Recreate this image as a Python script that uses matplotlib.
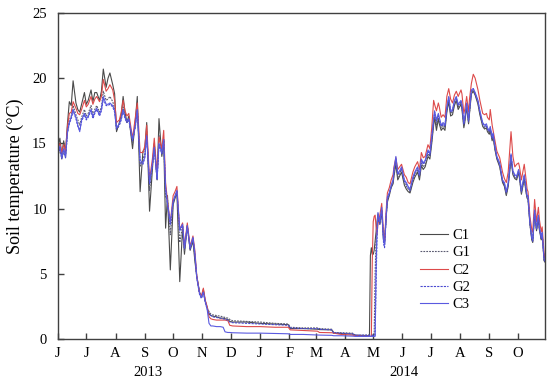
import numpy as np
import matplotlib
matplotlib.use("Agg")
import matplotlib.pyplot as plt
import matplotlib.transforms as mtransforms

plt.rcParams['font.family'] = ['Liberation Serif', 'DejaVu Serif']

start_date = np.datetime64('2013-06-01')
end_date = np.datetime64('2014-10-30')

# day offsets from 2013-06-01
days = [
    0, 2, 4, 6, 8, 10, 12, 14, 16, 19, 21, 23, 25, 28, 30, 32, 35, 37, 39, 41,
    44, 46, 48, 51, 53, 55, 58, 60, 62, 65, 67, 69, 71, 73, 75, 79, 82, 84,
    87, 90, 92, 94, 97, 100, 102, 105, 107, 110, 112, 114, 116, 119, 122, 124,
    126, 129, 132, 134, 137, 140, 143, 145, 147, 150, 152, 154, 156, 158,
    160, 162, 164, 168, 172, 175, 177, 180, 182, 185, 200, 214, 230, 244, 246,
    260, 275, 277, 290, 292, 300, 312, 315, 328,
    330, 331, 332, 333, 334, 335, 336, 337, 338, 339,
    341, 343, 345, 346, 348, 349, 351, 353, 355, 356,
    358, 360, 362, 364, 367, 369, 371, 373, 376, 378,
    381, 383, 385, 387, 389, 392, 394, 396, 398, 399,
    401, 403, 404, 406, 408, 410, 412, 414, 416, 418,
    420, 422, 424, 427, 428, 430, 431, 433, 435, 436,
    438, 440, 442, 445, 447, 450, 452, 454, 455, 457,
    458, 460, 461, 463, 465, 468, 471, 473, 475, 477,
    480, 482, 484, 486, 488, 489, 491, 494, 496, 497,
    498, 500, 502, 503, 505, 507, 509, 510, 512, 513,
    515, 516,
]

C1 = [
    14.8, 15.4, 14.1, 15.2, 14.3, 16.5, 18.2, 17.9, 19.8, 18.1, 17.6, 17.4, 18.0, 18.9, 18.0, 18.3, 19.1, 18.2, 18.9, 18.9,
    18.3, 19.0, 20.7, 19.3, 20.0, 20.4, 19.5, 18.8, 15.9, 16.6, 17.2, 18.6, 17.4, 16.6, 17.1, 14.6, 16.8, 18.6,
    11.3, 14.4, 14.6, 16.6, 9.8, 13.0, 15.0, 12.2, 16.9, 14.0, 15.2, 8.5, 11.0, 5.3, 10.3, 10.8,
    11.2, 4.4, 8.5, 6.5, 8.7, 6.8, 7.5, 6.0, 4.8, 3.6, 3.2, 3.8, 2.9, 2.4,
    1.9, 1.8, 1.75, 1.7, 1.6, 1.6, 1.55, 1.5, 1.35, 1.3, 1.3, 1.2, 1.15, 1.1, 0.8,
    0.8, 0.75, 0.72, 0.7, 0.45, 0.42, 0.38, 0.28, 0.25,
    0.3, 6.4, 7.0, 6.5, 6.5, 6.8, 7.5, 8.2, 9.0, 9.6,
    8.8, 9.8, 7.5, 7.4, 9.6, 10.5, 11.0, 11.6, 11.9, 12.5,
    13.4, 12.2, 12.5, 12.8, 11.8, 11.5, 11.3, 11.2, 12.0, 12.4,
    12.8, 12.2, 13.3, 13.0, 13.2, 14.0, 13.8, 15.0, 16.4, 17.0,
    16.0, 16.9, 16.5, 16.0, 16.2, 16.0, 17.4, 18.2, 17.1, 17.2,
    17.9, 18.3, 17.6, 18.0, 17.6, 16.2, 16.6, 17.8, 16.5, 17.3,
    18.8, 19.0, 18.7, 18.0, 17.2, 16.3, 16.1, 16.2, 15.9, 15.7,
    16.0, 15.2, 15.5, 14.5, 13.8, 13.2, 12.0, 11.7, 11.0, 11.7,
    13.8, 12.6, 12.3, 12.2, 12.8, 12.3, 11.1, 12.3, 11.2, 10.8,
    10.7, 8.8, 7.6, 7.4, 9.6, 8.3, 9.2, 8.4, 7.6, 8.0,
    6.0, 5.9,
]

G1 = [
    14.0, 14.6, 13.8, 14.4, 13.9, 15.8, 16.8, 17.1, 17.9, 17.2, 16.8, 16.4, 17.0, 17.6, 17.1, 17.3, 17.9, 17.2, 17.6, 17.9,
    17.4, 17.8, 19.0, 18.3, 18.4, 18.6, 18.2, 17.7, 16.0, 16.4, 17.0, 17.8, 17.1, 16.6, 16.9, 15.0, 16.5, 17.8,
    13.2, 13.8, 14.2, 15.9, 11.4, 13.3, 14.9, 12.3, 15.6, 14.2, 15.3, 10.8, 10.8, 8.0, 10.5, 10.9,
    11.4, 7.4, 8.7, 6.8, 8.7, 6.9, 7.7, 6.3, 4.8, 3.5, 3.2, 3.7, 2.9, 2.4,
    2.1, 1.9, 1.85, 1.8, 1.75, 1.7, 1.65, 1.6, 1.5, 1.4, 1.35, 1.3, 1.2, 1.15, 0.9,
    0.85, 0.85, 0.8, 0.75, 0.5, 0.48, 0.45, 0.3, 0.3,
    0.3, 0.3, 0.3, 0.3, 0.3, 0.3, 5.0, 7.6, 8.6, 9.5,
    8.9, 9.9, 7.5, 7.3, 9.7, 10.7, 11.1, 11.7, 12.0, 12.7,
    13.6, 12.4, 12.7, 13.0, 12.0, 11.7, 11.5, 11.3, 12.2, 12.6,
    13.0, 12.4, 13.5, 13.2, 13.4, 14.2, 14.0, 15.2, 16.6, 17.2,
    16.4, 17.1, 16.7, 16.2, 16.4, 16.2, 17.6, 18.4, 17.3, 17.4,
    18.1, 18.4, 17.8, 18.1, 17.8, 16.4, 16.8, 17.9, 16.6, 17.4,
    18.9, 19.1, 18.8, 18.1, 17.3, 16.4, 16.2, 16.3, 16.0, 15.8,
    16.1, 15.3, 15.6, 14.6, 13.9, 13.3, 12.1, 11.8, 11.1, 11.8,
    14.0, 12.7, 12.4, 12.3, 12.9, 12.4, 11.2, 12.4, 11.3, 10.9,
    10.8, 8.9, 7.7, 7.5, 9.7, 8.4, 9.3, 8.5, 7.7, 8.1,
    6.1, 5.9,
]

C2 = [
    14.6, 15.0, 14.3, 14.9, 14.4, 16.3, 17.3, 17.4, 18.2, 17.7, 17.3, 17.2, 17.6, 18.3, 17.8, 18.0, 18.6, 18.0, 18.4, 18.6,
    18.2, 18.6, 19.9, 19.0, 19.2, 19.5, 19.1, 18.3, 16.6, 16.8, 17.4, 18.3, 17.5, 17.1, 17.3, 15.4, 17.0, 18.1,
    14.3, 14.3, 14.8, 16.4, 12.2, 13.8, 15.4, 12.6, 15.5, 14.6, 16.0, 12.0, 10.6, 8.9, 11.0, 11.3,
    11.7, 8.4, 8.9, 7.1, 8.9, 7.1, 7.9, 6.8, 4.9, 3.5, 3.3, 3.9, 3.0, 2.5,
    1.7, 1.55, 1.5, 1.45, 1.45, 1.45, 1.45, 1.4, 1.05, 1.0, 0.95, 0.95, 0.9, 0.9, 0.7,
    0.65, 0.6, 0.5, 0.48, 0.45, 0.35, 0.3, 0.25, 0.2,
    0.2, 0.2, 0.2, 6.0, 9.0, 9.4, 9.5, 8.6, 8.0, 8.8,
    9.5, 10.4, 8.0, 7.5, 10.2, 11.2, 11.6, 12.2, 12.6, 13.2,
    13.9, 13.0, 13.2, 13.4, 12.6, 12.4, 12.0, 11.9, 12.8, 13.2,
    13.6, 13.0, 14.3, 13.9, 14.0, 14.9, 14.6, 16.2, 18.3, 18.0,
    17.5, 18.1, 17.8, 17.0, 17.2, 17.0, 18.6, 19.2, 18.4, 18.1,
    18.7, 19.0, 18.6, 19.1, 18.8, 17.3, 17.6, 18.6, 17.4, 18.4,
    19.6, 20.3, 20.0, 19.1, 18.3, 17.3, 17.2, 17.3, 17.0, 16.8,
    17.6, 16.4, 16.0, 15.2, 14.4, 13.9, 12.8, 12.3, 12.0, 12.8,
    15.9, 14.0, 13.2, 13.4, 13.5, 13.2, 12.2, 13.4, 12.2, 11.5,
    11.3, 9.4, 8.4, 8.2, 10.7, 9.0, 10.1, 9.2, 8.2, 8.6,
    6.6, 6.2,
]

G2 = [
    14.1, 14.7, 13.8, 14.5, 13.9, 15.8, 16.5, 16.9, 17.5, 16.9, 16.3, 16.0, 16.7, 17.2, 16.8, 17.0, 17.5, 16.9, 17.3, 17.6,
    17.1, 17.5, 18.4, 17.9, 17.9, 18.0, 17.8, 17.4, 16.1, 16.4, 16.8, 17.5, 16.9, 16.6, 16.8, 15.2, 16.3, 17.5,
    13.5, 13.4, 13.9, 15.5, 11.9, 13.3, 14.6, 12.2, 14.9, 14.2, 15.2, 11.5, 10.3, 8.8, 10.5, 10.9,
    11.3, 8.3, 8.7, 6.9, 8.6, 6.9, 7.7, 6.5, 4.7, 3.4, 3.1, 3.6, 2.8, 2.3,
    2.0, 1.8, 1.7, 1.65, 1.6, 1.55, 1.5, 1.45, 1.3, 1.25, 1.2, 1.15, 1.1, 1.05, 0.85,
    0.8, 0.8, 0.75, 0.7, 0.48, 0.45, 0.4, 0.3, 0.28,
    0.28, 0.28, 0.28, 0.28, 0.28, 0.28, 0.28, 4.0, 7.8, 9.3,
    8.8, 9.9, 7.3, 7.0, 9.7, 10.7, 11.1, 11.7, 12.1, 12.9,
    13.8, 12.6, 12.8, 13.1, 12.1, 11.9, 11.6, 11.4, 12.3, 12.7,
    13.1, 12.5, 13.7, 13.4, 13.6, 14.4, 14.1, 15.4, 16.7, 17.4,
    16.7, 17.2, 16.9, 16.3, 16.5, 16.3, 17.7, 18.5, 17.4, 17.5,
    18.2, 18.5, 17.9, 18.2, 17.9, 16.5, 16.9, 18.0, 16.7, 17.5,
    19.0, 19.2, 18.8, 18.2, 17.4, 16.5, 16.3, 16.4, 16.1, 15.9,
    16.2, 15.4, 15.7, 14.7, 13.9, 13.4, 12.1, 11.9, 11.2, 11.9,
    14.1, 12.8, 12.5, 12.4, 12.9, 12.5, 11.3, 12.5, 11.4, 10.9,
    10.9, 8.9, 7.7, 7.5, 9.8, 8.4, 9.4, 8.5, 7.7, 8.1,
    6.1, 5.9,
]

C3 = [
    14.2, 14.8, 13.9, 14.6, 14.0, 15.9, 16.6, 17.0, 17.6, 17.0, 16.4, 15.9, 16.8, 17.3, 16.9, 17.1, 17.6, 17.0, 17.4, 17.7,
    17.2, 17.6, 18.6, 18.0, 18.0, 18.1, 17.9, 17.5, 16.2, 16.5, 16.9, 17.6, 17.0, 16.7, 16.9, 15.3, 16.4, 17.6,
    13.7, 13.5, 14.0, 15.6, 12.0, 13.4, 14.7, 12.3, 15.0, 14.3, 15.3, 11.6, 10.4, 8.9, 10.6, 11.0,
    11.4, 8.4, 8.8, 7.0, 8.7, 7.0, 7.8, 6.6, 4.8, 3.5, 3.2, 3.6, 2.9, 2.3,
    1.2, 1.0, 1.0, 0.95, 0.95, 0.9, 0.55, 0.5, 0.5, 0.48, 0.45, 0.45, 0.42, 0.4, 0.35,
    0.35, 0.3, 0.3, 0.28, 0.25, 0.25, 0.22, 0.2, 0.2,
    0.2, 0.2, 0.2, 0.2, 0.2, 0.2, 0.2, 5.5, 8.3, 9.7,
    9.0, 10.1, 7.6, 7.2, 9.9, 10.9, 11.2, 11.8, 12.2, 13.0,
    14.0, 12.7, 12.9, 13.2, 12.2, 12.0, 11.7, 11.5, 12.4, 12.8,
    13.2, 12.6, 13.8, 13.5, 13.7, 14.5, 14.2, 15.5, 16.8, 17.5,
    16.8, 17.3, 17.0, 16.4, 16.6, 16.4, 17.8, 18.6, 17.5, 17.6,
    18.3, 18.6, 18.0, 18.3, 18.0, 16.6, 17.0, 18.1, 16.8, 17.6,
    19.1, 19.2, 18.9, 18.3, 17.5, 16.6, 16.4, 16.5, 16.2, 16.0,
    16.3, 15.5, 15.8, 14.8, 14.0, 13.5, 12.2, 12.0, 11.3, 12.0,
    14.2, 12.9, 12.6, 12.5, 13.0, 12.6, 11.4, 12.6, 11.5, 11.0,
    11.0, 9.0, 7.8, 7.6, 9.9, 8.5, 9.5, 8.6, 7.8, 8.2,
    6.2, 6.0,
]

series_names = ['C1', 'G1', 'C2', 'G2', 'C3']
month_labels = ['J', 'J', 'A', 'S', 'O', 'N', 'D', 'J', 'F', 'M', 'A',
                'M', 'J', 'J', 'A', 'S', 'O']
year_labels = ['2013', '2014']
year_label_dates = ['2013-09-04', '2014-06-03']
y_ticks = [0, 5, 10, 15, 20, 25]

dates = start_date + np.array(days).astype('timedelta64[D]')
month_starts = np.arange(np.datetime64('2013-06'), np.datetime64('2014-11'),
                         np.timedelta64(1, 'M')).astype('datetime64[D]')

fig = plt.figure(figsize=(5.5, 3.84), dpi=100)
ax = fig.add_axes([58/550, 1-339/384, 487/550, 326/384])

styles = {
    'C1': dict(color='#4a4a4a', ls='-'),
    'G1': dict(color='#5a5a70', ls=(0, (1.6, 1.0))),
    'C2': dict(color='#dd4a4a', ls='-'),
    'G2': dict(color='#4a4ad0', ls=(0, (2.0, 1.0))),
    'C3': dict(color='#5a5ae0', ls='-'),
}
data = {'C1': C1, 'G1': G1, 'C2': C2, 'G2': G2, 'C3': C3}
for name in series_names:
    ax.plot(dates, data[name], lw=0.8, label=name, **styles[name])

ax.set_xlim(start_date, end_date)
ax.set_ylim(0, 25)
ax.set_yticks(y_ticks)
ax.set_xticks(month_starts)
ax.set_xticklabels(month_labels)
ax.tick_params(axis='both', direction='in', length=4, width=1, color='#404040',
               labelsize=10.5, top=False, right=False)
ax.tick_params(axis='y', pad=8)
ax.tick_params(axis='x', pad=6)
for sp in ax.spines.values():
    sp.set_color('#404040')
    sp.set_linewidth(1.0)

ax.set_ylabel('Soil temperature (°C)', fontsize=13, labelpad=6)

trans = mtransforms.blended_transform_factory(ax.transData, ax.transAxes)
for lab, d in zip(year_labels, year_label_dates):
    ax.text(np.datetime64(d), -0.104, lab, transform=trans, ha='center',
            va='center', fontsize=10.5)

leg = ax.legend(loc='upper left', bbox_to_anchor=(0.743, 0.337), frameon=False,
                fontsize=10.5, handlelength=1.9, handletextpad=0.35,
                labelspacing=0.27, borderpad=0, borderaxespad=0)

fig.savefig('out.png', dpi=100)
